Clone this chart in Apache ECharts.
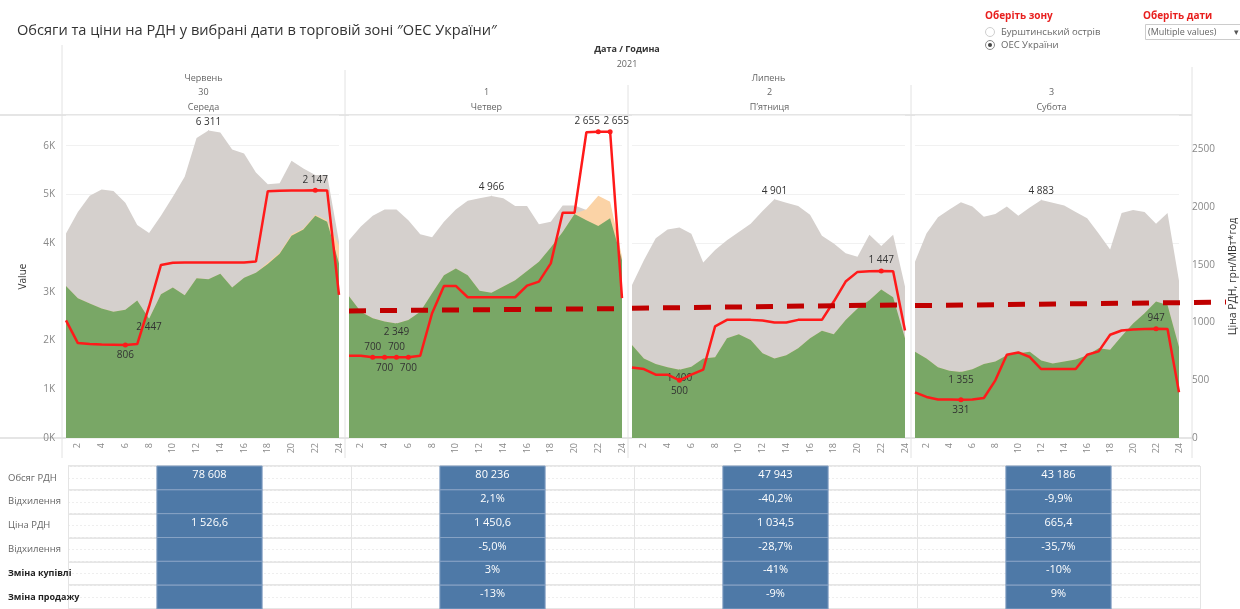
<!DOCTYPE html>
<html>
<head>
<meta charset="utf-8">
<script src="https://cdn.jsdelivr.net/npm/echarts@6/dist/echarts.min.js"></script>
<style>
  html, body { margin: 0; padding: 0; background: #fff; }
  #chart { width: 1240px; height: 609px; }
</style>
</head>
<body>
<div id="chart"></div>
<script>
// ---- data ----
const hours = ['1','2','3','4','5','6','7','8','9','10','11','12','13','14','15','16','17','18','19','20','21','22','23','24'];
const months = ['Червень', 'Липень'];
const monthSpan = [1, 3];
const days = ['30', '1', '2', '3'];
const weekdays = ['Середа', 'Четвер', 'П\u2019ятниця', 'Субота'];

// grey area, MW
const sellBids = [
    [4200,4640,4970,5100,5070,4830,4370,4210,4560,4950,5360,6160,6311,6270,5920,5840,5450,5210,5230,5690,5530,5400,5400,4030],
    [4060,4340,4560,4690,4690,4470,4180,4120,4440,4690,4870,4920,4966,4920,4760,4760,4390,4440,4770,4770,4680,4900,4800,3650],
    [3140,3650,4100,4280,4320,4190,3600,3860,4060,4230,4400,4660,4901,4830,4760,4580,4150,3990,3790,3720,4170,3940,4170,3110],
    [3620,4200,4530,4690,4840,4750,4540,4600,4750,4560,4730,4883,4830,4770,4640,4510,4200,3870,4620,4680,4640,4400,4620,3230],
];
// orange area, MW
const buyBids = [
    [3120,2870,2760,2660,2590,2630,2820,2447,2950,3090,2930,3280,3260,3370,3090,3290,3390,3600,3800,4180,4300,4580,4470,3950],
    [2910,2590,2460,2390,2349,2420,2590,2970,3340,3480,3340,3020,2980,3110,3240,3430,3620,3910,4230,4610,4690,4970,4850,3720],
    [1910,1630,1520,1450,1400,1460,1630,1660,2050,2130,2010,1740,1630,1700,1840,2050,2200,2130,2420,2660,2830,3050,2890,2050],
    [1770,1630,1450,1380,1355,1410,1520,1570,1700,1740,1770,1590,1530,1570,1610,1700,1840,1810,2090,2350,2560,2800,2730,1870],
];
// green area, MW
const traded = [
    [3120,2870,2760,2660,2590,2630,2820,2447,2950,3090,2930,3280,3260,3370,3090,3290,3390,3570,3780,4150,4280,4560,4440,3580],
    [2910,2590,2460,2390,2349,2420,2590,2970,3340,3480,3340,3020,2980,3110,3240,3430,3620,3910,4230,4600,4470,4350,4510,3650],
    [1910,1630,1520,1450,1400,1460,1630,1660,2050,2130,2010,1740,1630,1700,1840,2050,2200,2130,2420,2660,2830,3050,2890,2050],
    [1770,1630,1450,1380,1355,1410,1520,1570,1700,1740,1770,1590,1530,1570,1610,1700,1840,1810,2090,2350,2560,2800,2730,1870],
];
// red line, грн/МВт*год
const price = [
    [1019,823,815,810,808,806,814,1140,1500,1520,1521,1521,1521,1521,1521,1522,1529,2140,2143,2145,2146,2147,2146,1241],
    [713,713,700,700,700,700,713,1082,1318,1318,1220,1220,1220,1220,1220,1321,1356,1514,1952,1952,2650,2655,2655,1212],
    [612,598,549,549,500,549,592,967,1024,1024,1024,1019,1001,1001,1024,1024,1024,1183,1356,1440,1445,1447,1446,932],
    [396,356,333,333,331,333,347,500,722,742,702,598,598,598,598,722,751,895,932,940,944,947,945,396],
];
// dashed trend, [hour, price]
const trend = [
    [],
    [[1, 1102], [24, 1122]],
    [[1, 1125], [24, 1154]],
    [[1, 1148], [24, 1174], [27.2, 1178]],
];

// table
const tableRows = ['Обсяг РДН', 'Відхилення', 'Ціна РДН', 'Відхилення', 'Зміна купівлі', 'Зміна продажу'];
const dayVolume = [78608, 80236, 47943, 43186];
const volumeDev = [null, 2.1, -40.2, -9.9];
const dayPrice = [1526.6, 1450.6, 1034.5, 665.4];
const priceDev = [null, -5.0, -28.7, -35.7];
const buyChange = [null, 3, -41, -10];
const sellChange = [null, -13, -9, 9];

// ---- layout ----
const FONT = 'Open Sans';
const panelLeft = [66, 349, 632, 915];
const panelWidth = 273;
const plotTop = 115;
const plotHeight = 323;
const volMax = 6630;
const priceMax = 2800;

const sep = (n) => String(n).replace(/\B(?=(\d{3})+(?!\d))/g, ' ');
const fmtNum = (v, d) => {
    const [i, f] = Math.abs(v).toFixed(d).split('.');
    return (v < 0 ? '-' : '') + sep(i) + (f ? ',' + f : '');
};

const labelStyle = { show: true, color: '#333', fontSize: 10, fontFamily: FONT, distance: 3 };

// label the max / min points of a series
// pos 'alt' flips top/bottom for repeated lows, repeated highs get pushed apart
const markExtreme = (values, pick, pos, size) => {
    const target = pick === 'max' ? Math.max(...values) : Math.min(...values);
    const count = values.filter((v) => v === target).length;
    let k = 0;
    return values.map((v) => {
        if (v !== target) return v;
        let p = pos;
        let offset = [0, 0];
        if (pos === 'alt') p = count > 1 && k % 2 === 1 ? 'bottom' : count > 1 ? 'top' : 'bottom';
        if (pos === 'top' && count > 1) offset = [k === 0 ? -11 : 6, 0];
        k++;
        return {
            value: v,
            symbol: 'circle',
            symbolSize: size,
            label: { ...labelStyle, position: p, offset, formatter: (o) => sep(o.value) },
        };
    });
};

const grids = [], xAxes = [], yAxes = [], series = [];
const trendStyle = { color: '#c00000', width: 5, type: [17, 14] };

panelLeft.forEach((left, i) => {
    grids.push({ left: left, top: plotTop, width: panelWidth, height: plotHeight });
    xAxes.push({
        gridIndex: i, type: 'category', data: hours, boundaryGap: false,
        axisLine: { show: false }, axisTick: { show: false },
        axisLabel: {
            rotate: 90, fontSize: 9, color: '#888', fontFamily: FONT, margin: 5,
            interval: (idx) => idx % 2 === 1,
        },
    });
    xAxes.push({ gridIndex: i, type: 'value', min: 1, max: 24, show: false });
    yAxes.push({
        gridIndex: i, type: 'value', min: 0, max: volMax, interval: 1000,
        offset: 4,
        name: i === 0 ? 'Value' : '',
        nameLocation: 'middle', nameGap: 34,
        nameTextStyle: { fontSize: 10, color: '#333', fontFamily: FONT },
        axisLine: { show: false }, axisTick: { show: false },
        axisLabel: {
            show: i === 0, showMaxLabel: false, fontSize: 10, color: '#888', fontFamily: FONT, margin: 7,
            formatter: (v) => v / 1000 + 'K',
        },
        splitLine: { show: true, lineStyle: { color: '#f1f1f1' } },
    });
    yAxes.push({
        gridIndex: i, type: 'value', min: 0, max: priceMax, interval: 500,
        position: 'right', offset: 4, show: i === 3,
        name: 'Ціна РДН, грн/МВт*год',
        nameLocation: 'middle', nameGap: 45, nameRotate: 90,
        nameTextStyle: { fontSize: 10.5, color: '#333', fontFamily: FONT },
        axisLine: { show: false }, axisTick: { show: false },
        axisLabel: {
            showMaxLabel: false, fontSize: 10, color: '#888', fontFamily: FONT, margin: 9,
            formatter: (v) => String(v),
        },
        splitLine: { show: false },
    });

    const ax = { xAxisIndex: 2 * i, yAxisIndex: 2 * i };
    series.push({
        type: 'line', ...ax, z: 1, symbol: 'none', showSymbol: true,
        lineStyle: { width: 0 }, itemStyle: { color: '#d5d0cd' },
        areaStyle: { color: '#d5d0cd', opacity: 1 },
        data: markExtreme(sellBids[i], 'max', 'top', 1),
    });
    series.push({
        type: 'line', ...ax, z: 2, symbol: 'none',
        lineStyle: { width: 0 }, areaStyle: { color: '#fbd3a6', opacity: 1 },
        data: buyBids[i],
    });
    series.push({
        type: 'line', ...ax, z: 3, symbol: 'none', showSymbol: true,
        lineStyle: { width: 0 }, itemStyle: { color: '#79a766' },
        areaStyle: { color: '#79a766', opacity: 1 },
        data: markExtreme(traded[i], 'min', 'bottom', 1),
    });
    const lows = markExtreme(price[i], 'min', 'alt', 5);
    const highs = markExtreme(price[i], 'max', 'top', 5);
    series.push({
        type: 'line', xAxisIndex: 2 * i, yAxisIndex: 2 * i + 1, z: 5,
        symbol: 'none', showSymbol: true,
        lineStyle: { color: '#ff1a1a', width: 2.5 }, itemStyle: { color: '#ff1a1a' },
        data: price[i].map((v, j) => (typeof highs[j] === 'object' ? highs[j] : lows[j])),
    });
});

// ---- table ----
const tableIdx = panelLeft.length;
grids.push({ left: 68, top: 466, width: 1132, height: 147 });
xAxes.push({
    gridIndex: tableIdx, type: 'category', data: days, boundaryGap: true,
    axisLine: { show: false }, axisTick: { show: false }, axisLabel: { show: false },
    splitLine: { show: true, lineStyle: { color: '#e4e4e4' } },
});
yAxes.push({
    gridIndex: tableIdx, type: 'category', data: tableRows, inverse: true,
    axisLine: { show: false }, axisTick: { show: false },
    axisLabel: {
        align: 'left', margin: 60, fontSize: 9.5, color: '#666', fontFamily: FONT,
        formatter: (v, idx) => (idx >= 4 ? '{b|' + v + '}' : v),
        rich: { b: { fontSize: 9, color: '#222', fontWeight: 'bold', fontFamily: FONT } },
    },
    splitLine: { show: true, lineStyle: { color: '#dedede', width: 1.5 } },
});
yAxes.push({
    gridIndex: tableIdx, type: 'value', min: 0, max: 6, interval: 0.5, inverse: true,
    axisLine: { show: false }, axisTick: { show: false }, axisLabel: { show: false },
    splitLine: { show: true, lineStyle: { color: '#eeeeee', type: [2, 2] } },
});

const cellData = [];
const cellText = [];
days.forEach((d, j) => {
    const texts = [
        sep(dayVolume[j]),
        volumeDev[j] == null ? '' : fmtNum(volumeDev[j], 1) + '%',
        fmtNum(dayPrice[j], 1),
        priceDev[j] == null ? '' : fmtNum(priceDev[j], 1) + '%',
        buyChange[j] == null ? '' : buyChange[j] + '%',
        sellChange[j] == null ? '' : sellChange[j] + '%',
    ];
    texts.forEach((t, r) => {
        cellData.push([j, r]);
        cellText.push(t);
    });
});

series.push({
    type: 'custom', xAxisIndex: 2 * tableIdx, yAxisIndex: 2 * tableIdx,
    data: cellData,
    encode: { x: 0, y: 1 },
    renderItem: (params, api) => {
        const c = api.coord([api.value(0), api.value(1)]);
        const s = api.size([1, 1]);
        const w = s[0] * 0.372;
        return {
            type: 'group',
            children: [
                {
                    type: 'rect',
                    shape: { x: c[0] - w / 2, y: c[1] - s[1] / 2, width: w, height: s[1] },
                    style: { fill: '#4e79a7', stroke: '#86a2c4', lineWidth: 1 },
                },
                {
                    type: 'text', x: c[0], y: c[1] - 3,
                    style: {
                        text: cellText[params.dataIndex], fill: '#fff',
                        font: '11px "' + FONT + '"', align: 'center', verticalAlign: 'middle',
                    },
                },
            ],
        };
    },
});

// ---- dashed trend lines, each on its own overlay grid (last one runs past hour 24) ----
const hourStep = panelWidth / 23;
trend.forEach((pts, i) => {
    if (!pts.length) return;
    const lastHour = Math.max(24, ...pts.map((p) => p[0]));
    const g = grids.length;
    grids.push({ left: panelLeft[i], top: plotTop, width: hourStep * (lastHour - 1), height: plotHeight });
    const xi = xAxes.length;
    const yi = yAxes.length;
    xAxes.push({ gridIndex: g, type: 'value', min: 1, max: lastHour, show: false });
    yAxes.push({ gridIndex: g, type: 'value', min: 0, max: priceMax, show: false });
    series.push({
        type: 'line', xAxisIndex: xi, yAxisIndex: yi, z: 6,
        symbol: 'none', lineStyle: trendStyle, data: pts,
    });
});

// ---- header, separators, controls ----
const lineColor = '#e2e2e2';
const txt = (x, y, text, opt = {}) => ({
    type: 'text', x, y,
    style: {
        text, fill: opt.fill || '#666', align: opt.align || 'center', verticalAlign: 'middle',
        font: (opt.weight || 'normal') + ' ' + (opt.size || 9) + 'px "' + FONT + '"',
    },
});
const vline = (x, y1, y2) => ({
    type: 'line', shape: { x1: x, y1, x2: x, y2 }, style: { stroke: lineColor, lineWidth: 1 },
});
const hline = (y, x1, x2, w) => ({
    type: 'line', shape: { x1, y1: y, x2, y2: y }, style: { stroke: '#dcdcdc', lineWidth: w },
});

const sepX = panelLeft.map((l) => l - 4).concat(panelLeft[3] + panelWidth + 4);
const center = (i) => (sepX[i] + sepX[i + 1]) / 2;
const graphics = [
    hline(plotTop, 0, sepX[4], 1.5),
    hline(plotTop + plotHeight, 0, sepX[4], 1.5),
    vline(sepX[0], 45, 458),
    vline(sepX[1], 70, 458),
    vline(sepX[2], 85, 458),
    vline(sepX[3], 85, 458),
    vline(sepX[4], 67, 458),
    txt((sepX[0] + sepX[4]) / 2, 49, 'Дата / Година', { fill: '#333', weight: 'bold' }),
    txt((sepX[0] + sepX[4]) / 2, 64, '2021'),
];
let mStart = 0;
months.forEach((m, k) => {
    const mEnd = mStart + monthSpan[k];
    graphics.push(txt((sepX[mStart] + sepX[mEnd]) / 2, 78, m));
    mStart = mEnd;
});
days.forEach((d, i) => {
    graphics.push(txt(center(i), 92, d));
    graphics.push(txt(center(i), 107, weekdays[i]));
});

const red = '#e8201f';
graphics.push(
    txt(985, 16, 'Оберіть зону', { fill: red, weight: 'bold', align: 'left', size: 10 }),
    { type: 'circle', shape: { cx: 990, cy: 32, r: 4.5 }, style: { fill: '#fff', stroke: '#cfcfcf' } },
    txt(1001, 32, 'Бурштинський острів', { align: 'left', size: 9.5 }),
    { type: 'circle', shape: { cx: 990, cy: 45, r: 4.5 }, style: { fill: '#fff', stroke: '#8a8a8a' } },
    { type: 'circle', shape: { cx: 990, cy: 45, r: 2 }, style: { fill: '#444' } },
    txt(1001, 45, 'ОЕС України', { align: 'left', size: 9.5 }),
    txt(1143, 16, 'Оберіть дати', { fill: red, weight: 'bold', align: 'left', size: 10 }),
    { type: 'rect', shape: { x: 1145.5, y: 24.5, width: 100, height: 15 }, style: { fill: '#fff', stroke: '#cccccc' } },
    txt(1148, 32, '(Multiple values)', { align: 'left', size: 9 }),
    txt(1236, 32, '\u25BE', { fill: '#555', size: 9 })
);

const myChart = echarts.init(document.getElementById('chart'));
const option = {
    animation: false,
    backgroundColor: '#fff',
    title: {
        text: 'Обсяги та ціни на РДН у вибрані дати в торговій зоні \u2033ОЕС України\u2033',
        left: 12, top: 18,
        textStyle: { fontSize: 14.6, fontWeight: 'normal', color: '#333', fontFamily: FONT },
    },
    grid: grids,
    xAxis: xAxes,
    yAxis: yAxes,
    series: series,
    graphic: graphics,
};
myChart.setOption(option);
</script>
</body>
</html>
